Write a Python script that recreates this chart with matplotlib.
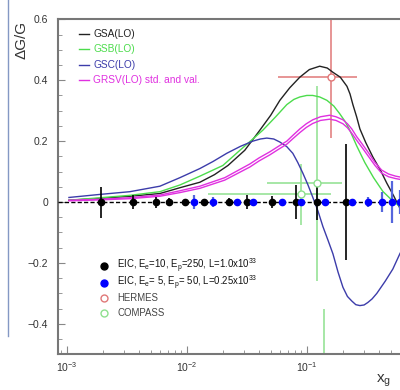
import numpy as np
import matplotlib
matplotlib.use("Agg")
import matplotlib.pyplot as plt
from matplotlib.lines import Line2D
from matplotlib.ticker import MultipleLocator, FixedLocator, LogLocator, NullFormatter

plt.rcParams["font.family"] = ["Liberation Sans", "DejaVu Sans"]
plt.rcParams["mathtext.default"] = "regular"

# model curves
gsa_x = [0.00104, 0.00188, 0.00335, 0.00596, 0.00875, 0.01284, 0.017, 0.022, 0.0304, 0.0406,
         0.05, 0.0596, 0.072, 0.0874, 0.105, 0.128, 0.148, 0.165, 0.19, 0.216,
         0.229, 0.242, 0.26, 0.277, 0.31, 0.355, 0.41, 0.464, 0.53, 0.596, 1.0]
gsa_y = [0.006, 0.012, 0.019, 0.028, 0.047, 0.065, 0.09, 0.12, 0.17, 0.236,
         0.285, 0.334, 0.375, 0.41, 0.435, 0.446, 0.44, 0.426, 0.41, 0.38,
         0.355, 0.32, 0.28, 0.24, 0.195, 0.148, 0.105, 0.062, 0.02, -0.02, -0.1]

gsb_x = [0.00104, 0.00188, 0.00335, 0.00596, 0.00875, 0.01284, 0.01995, 0.0277, 0.035, 0.043,
         0.055, 0.0681, 0.078, 0.0874, 0.1, 0.112, 0.128, 0.147, 0.168, 0.188,
         0.208, 0.228, 0.26, 0.304, 0.36, 0.43, 0.5, 0.596, 1.0]
gsb_y = [0.006, 0.014, 0.022, 0.034, 0.056, 0.085, 0.12, 0.17, 0.205, 0.236,
         0.28, 0.32, 0.337, 0.345, 0.35, 0.35, 0.345, 0.334, 0.315, 0.29,
         0.265, 0.236, 0.185, 0.13, 0.08, 0.035, 0.01, -0.015, -0.07]

gsc_x = [0.00104, 0.00188, 0.00335, 0.00596, 0.00875, 0.01284, 0.0165, 0.0215, 0.028, 0.0355,
         0.041, 0.0464, 0.053, 0.0596, 0.068, 0.0764, 0.084, 0.0926, 0.102, 0.112,
         0.124, 0.136, 0.15, 0.165, 0.182, 0.2, 0.218, 0.237, 0.256, 0.277,
         0.30, 0.322, 0.35, 0.383, 0.45, 0.521, 0.596, 1.0]
gsc_y = [0.015, 0.025, 0.034, 0.052, 0.08, 0.11, 0.133, 0.16, 0.183, 0.20,
         0.207, 0.21, 0.207, 0.197, 0.182, 0.16, 0.13, 0.095, 0.057, 0.016,
         -0.03, -0.08, -0.125, -0.17, -0.23, -0.28, -0.31, -0.325, -0.337, -0.34,
         -0.338, -0.33, -0.318, -0.30, -0.26, -0.22, -0.17, 0.0]

grsv_x = [0.00104, 0.00188, 0.00335, 0.00596, 0.00875, 0.01284, 0.0207, 0.0335, 0.04, 0.0492,
          0.058, 0.0681, 0.077, 0.0874, 0.099, 0.112, 0.13, 0.155, 0.175, 0.2,
          0.218, 0.237, 0.26, 0.29, 0.322, 0.37, 0.42, 0.48, 0.55, 1.0]
grsv_std = [0.006, 0.009, 0.014, 0.023, 0.037, 0.052, 0.08, 0.125, 0.145, 0.165,
            0.183, 0.2, 0.22, 0.24, 0.257, 0.27, 0.28, 0.285, 0.28, 0.27,
            0.257, 0.24, 0.215, 0.19, 0.165, 0.13, 0.105, 0.092, 0.085, 0.065]
grsv_val = [0.004, 0.007, 0.011, 0.019, 0.031, 0.045, 0.072, 0.115, 0.135, 0.155,
            0.173, 0.19, 0.209, 0.228, 0.245, 0.258, 0.268, 0.272, 0.268, 0.257,
            0.244, 0.226, 0.203, 0.178, 0.153, 0.12, 0.095, 0.083, 0.077, 0.058]

# EIC projections (all at dG/G = 0)
eic1_x = [0.00191, 0.00353, 0.00548, 0.00708, 0.00962, 0.01387, 0.0224, 0.0318, 0.0514, 0.0805, 0.122, 0.211]
eic1_err = [0.051, 0.022, 0.018, 0.014, 0.01, 0.01, 0.012, 0.023, 0.02, 0.057, 0.06, 0.19]
eic2_x = [0.01143, 0.01637, 0.02624, 0.0357, 0.0615, 0.0891, 0.143, 0.236, 0.324, 0.424, 0.508, 0.596]
eic2_err = [0.023, 0.015, 0.008, 0.005, 0.006, 0.006, 0.006, 0.006, 0.017, 0.032, 0.07, 0.04]

# measurements
hermes_x, hermes_y, hermes_xlo, hermes_xhi, hermes_err = 0.158, 0.41, 0.101, 0.102, 0.2
compass_x = [0.089, 0.121, 0.14]
compass_y = [0.026, 0.061, -0.70]
compass_xlo = [0.074, 0.074, 0.0]
compass_xhi = [0.071, 0.074, 0.0]
compass_err = [0.1, 0.32, 0.35]

fig = plt.figure(figsize=(4.0, 3.9), dpi=100)
ax = fig.add_axes([0.144, 0.0915, 0.923, 0.859])
ax.set_xscale("log")
ax.set_xlim(10 ** -3.0775, 1.0)
ax.set_ylim(-0.5, 0.6)

c_gsa, c_gsb, c_gsc, c_grsv = "#222222", "#4cdc4c", "#3c3caa", "#e030e0"
c_her, c_com = "#e07878", "#8ee08e"

ax.axhline(0, color="black", lw=1, ls=(0, (3, 1.6)), zorder=3)

ax.errorbar(compass_x, compass_y, yerr=compass_err, xerr=[compass_xlo, compass_xhi],
            fmt="none", ecolor=c_com, elinewidth=1.1, zorder=2)
ax.plot(compass_x[:2], compass_y[:2], "o", mfc="white", mec=c_com, ms=5, mew=1, zorder=6)
ax.errorbar([hermes_x], [hermes_y], yerr=[hermes_err], xerr=[[hermes_xlo], [hermes_xhi]],
            fmt="none", ecolor=c_her, elinewidth=1.1, zorder=2)
ax.plot([hermes_x], [hermes_y], "o", mfc="white", mec=c_her, ms=5, mew=1, zorder=6)

ax.plot(gsa_x, gsa_y, color=c_gsa, lw=1, zorder=4)
ax.plot(gsb_x, gsb_y, color=c_gsb, lw=1, zorder=4)
ax.plot(gsc_x, gsc_y, color=c_gsc, lw=1, zorder=4)
ax.plot(grsv_x, grsv_std, color=c_grsv, lw=1, zorder=4)
ax.plot(grsv_x, grsv_val, color=c_grsv, lw=1, zorder=4)

ax.errorbar(eic1_x, np.zeros(len(eic1_x)), yerr=eic1_err, fmt="o", color="black",
            ms=4.5, elinewidth=1.2, zorder=5)
ax.errorbar(eic2_x, np.zeros(len(eic2_x)), yerr=eic2_err, fmt="o", color="#0000ff",
            ecolor="#5566dd", ms=4.5, elinewidth=1.6, zorder=5)

# axes styling
for s in ["left", "bottom", "top"]:
    ax.spines[s].set_color("#777777")
    ax.spines[s].set_linewidth(1.5)
ax.spines["right"].set_visible(False)

ax.yaxis.set_major_locator(FixedLocator([-0.4, -0.2, 0, 0.2, 0.4, 0.6]))
ax.yaxis.set_minor_locator(MultipleLocator(0.05))
ax.set_yticklabels(["\u22120.4", "\u22120.2", "0", "0.2", "0.4", "0.6"])
ax.xaxis.set_major_locator(FixedLocator([1e-3, 1e-2, 1e-1]))
ax.set_xticklabels(["10$^{-3}$", "10$^{-2}$", "10$^{-1}$"])
ax.xaxis.set_minor_locator(LogLocator(base=10, subs=np.arange(2, 10), numticks=20))
ax.xaxis.set_minor_formatter(NullFormatter())
ax.tick_params(which="both", direction="in", color="#888888", labelcolor="#333333",
               labelsize=7.5, top=False, right=False)
ax.tick_params(axis="y", which="major", length=5, pad=7)
ax.tick_params(axis="y", which="minor", length=3)
ax.tick_params(axis="x", which="major", length=6, pad=4)
ax.tick_params(axis="x", which="minor", length=3)

W, H = 400.0, 390.0

def fx(px):
    return px / W

def fy(py):
    return 1 - py / H

# top legend (curves)
curve_names = ["GSA(LO)", "GSB(LO)", "GSC(LO)", "GRSV(LO) std. and val."]
curve_cols = [c_gsa, c_gsb, c_gsc, c_grsv]
for i, (nm, col) in enumerate(zip(curve_names, curve_cols)):
    py = 34 + 15.3 * i
    fig.add_artist(Line2D([fx(79), fx(89)], [fy(py), fy(py)], color=col, lw=1))
    fig.text(fx(93), fy(py), nm, color=col, fontsize=7.3, va="center", ha="left")

# bottom legend (data)
pt_names = ["EIC, E$_e$=10, E$_p$=250, L=1.0x10$^{33}$",
            "EIC, E$_e$= 5, E$_p$= 50, L=0.25x10$^{33}$",
            "HERMES", "COMPASS"]
pt_rows = [266, 282.5, 298, 313]
for i, nm in enumerate(pt_names):
    py = pt_rows[i]
    if i == 0:
        fig.add_artist(Line2D([fx(104)], [fy(py)], marker="o", color="black", ms=5, ls="none"))
    elif i == 1:
        fig.add_artist(Line2D([fx(104)], [fy(py)], marker="o", color="#0000ff", ms=5, ls="none"))
    else:
        col = c_her if i == 2 else c_com
        fig.add_artist(Line2D([fx(104)], [fy(py)], marker="o", mfc="white", mec=col, ms=5,
                              mew=1, ls="none"))
    fig.text(fx(117), fy(py), nm, color="#111111" if i < 2 else "#444444",
             fontsize=6.9, va="center", ha="left")

# axis titles
fig.text(fx(22), fy(40), "\u0394G/G", rotation=90, fontsize=11, color="#333333",
         ha="center", va="center")
fig.text(fx(384), fy(381), "x$_g$", fontsize=11, color="#333333", ha="center", va="center")

# thin frame line at the left edge
fig.add_artist(Line2D([fx(8.3), fx(8.3)], [fy(0), fy(336)], color="#8498c4", lw=1))

fig.savefig("out.png", dpi=100)
